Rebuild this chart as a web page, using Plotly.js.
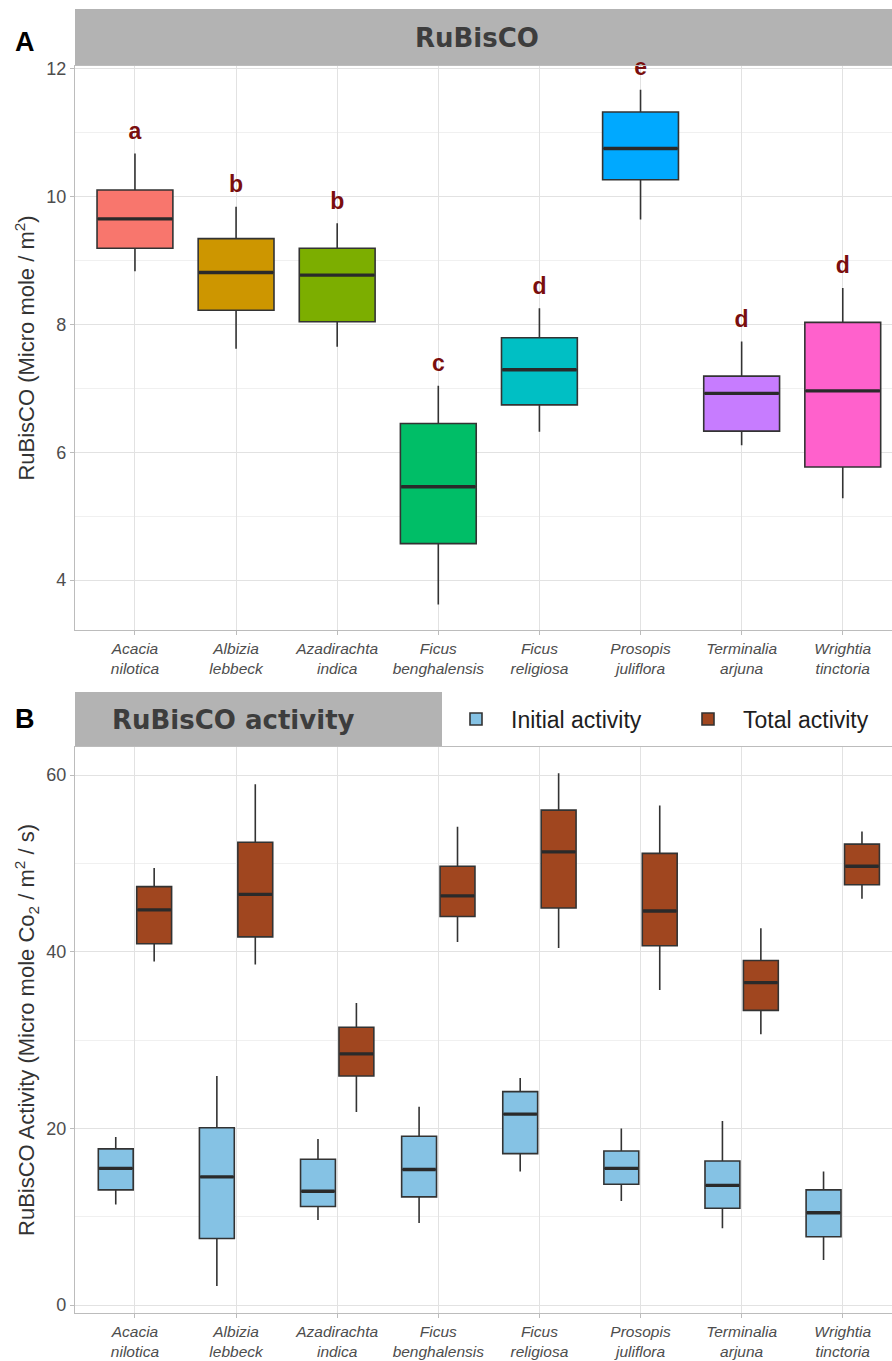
<!DOCTYPE html>
<html>
<head>
<meta charset="utf-8">
<script src="https://cdn.plot.ly/plotly-3.0.1.min.js"></script>
<style>html,body{margin:0;padding:0;background:#fff;overflow:hidden;}#chart{width:892px;height:1361px;}</style>
</head>
<body>
<div id="chart"></div>
<script>
// ---------- data ----------
const genus = ['Acacia','Albizia','Azadirachta','Ficus','Ficus','Prosopis','Terminalia','Wrightia'];
const epithet = ['nilotica','lebbeck','indica','benghalensis','religiosa','juliflora','arjuna','tinctoria'];

// Panel A: RuBisCO (Micro mole / m2)
const rubLow = [8.83, 7.62, 7.65, 3.62, 6.32, 9.64, 6.11, 5.28];
const rubQ1  = [9.19, 8.22, 8.04, 4.57, 6.74, 10.26, 6.33, 5.77];
const rubMed = [9.65, 8.81, 8.77, 5.46, 7.29, 10.75, 6.92, 6.96];
const rubQ3  = [10.10, 9.34, 9.19, 6.45, 7.79, 11.32, 7.19, 8.03];
const rubHigh= [10.67, 9.84, 9.58, 7.04, 8.25, 11.67, 7.73, 8.57];
const letters = ['a','b','b','c','d','e','d','d'];

// Panel B: RuBisCO activity (Micro mole CO2 / m2 / s)
const initLow = [11.37, 2.17, 9.62, 9.28, 15.13, 11.79, 8.70, 5.10];
const initQ1  = [13.04, 7.53, 11.16, 12.25, 17.14, 13.67, 10.95, 7.73];
const initMed = [15.47, 14.51, 12.88, 15.34, 21.61, 15.47, 13.55, 10.45];
const initQ3  = [17.68, 20.07, 16.51, 19.11, 24.16, 17.43, 16.30, 13.04];
const initHigh= [19.02, 25.92, 18.81, 22.45, 25.71, 19.98, 20.82, 15.13];

const totLow = [38.88, 38.55, 21.86, 41.10, 40.43, 35.66, 30.64, 45.99];
const totQ1  = [40.89, 41.68, 25.92, 43.98, 44.94, 40.68, 33.36, 47.58];
const totMed = [44.73, 46.49, 28.43, 46.32, 51.30, 44.61, 36.50, 49.67];
const totQ3  = [47.37, 52.38, 31.44, 49.67, 56.02, 51.13, 39.00, 52.17];
const totHigh= [49.46, 58.95, 34.20, 54.14, 60.20, 56.56, 42.64, 53.60];

const seriesNames = ['Initial activity','Total activity'];

// ---------- styles ----------
const hueColors = ['#F8766D','#CD9600','#7CAE00','#00BE67','#00BFC4','#00A9FF','#C77CFF','#FF61CC'];
const initColor = '#85C2E4';
const totColor  = '#A0461F';
const outline = '#333333';
const FONT = 'Liberation Sans, Arial, sans-serif';
const W = 892, H = 1361;
const boxWA = 0.75, boxWB = 0.345, dodge = 0.19;
const letterGap = 0.32;

const idx = genus.map((_, i) => i);
const tickText = genus.map((g, i) => '<i>' + g + '</i><br><i>' + epithet[i] + '</i>');

const traces = [];

// Panel A boxes
idx.forEach(i => {
  traces.push({
    type: 'box', xaxis: 'x', yaxis: 'y', x: [i],
    q1: [rubQ1[i]], median: [rubMed[i]], q3: [rubQ3[i]],
    lowerfence: [rubLow[i]], upperfence: [rubHigh[i]],
    width: boxWA, whiskerwidth: 0, boxpoints: false,
    fillcolor: hueColors[i], line: {color: outline, width: 1.6},
    showlegend: false, hoverinfo: 'skip'
  });
});
function medianSeg(centers, meds, w) {
  const xs = [], ys = [];
  centers.forEach((c, i) => { xs.push(c - w/2 + 0.008, c + w/2 - 0.008, null); ys.push(meds[i], meds[i], null); });
  return {xs, ys};
}
const mA = medianSeg(idx, rubMed, boxWA);
traces.push({type:'scatter', mode:'lines', xaxis:'x', yaxis:'y', x:mA.xs, y:mA.ys,
  line:{color:'#2a2a2a', width:3.4}, showlegend:false, hoverinfo:'skip'});
traces.push({type:'scatter', mode:'text', xaxis:'x', yaxis:'y', x: idx,
  y: rubHigh.map(v => v + letterGap), text: letters.map(l => '<b>' + l + '</b>'),
  textposition:'middle center', textfont:{family:FONT, size:23, color:'#7A0E0E'},
  cliponaxis:false, showlegend:false, hoverinfo:'skip'});

// Panel B boxes
const xInit = idx.map(i => i - dodge), xTot = idx.map(i => i + dodge);
traces.push({
  type:'box', name: seriesNames[0], legend:'legend', xaxis:'x2', yaxis:'y2', x: xInit,
  q1: initQ1, median: initMed, q3: initQ3, lowerfence: initLow, upperfence: initHigh,
  width: boxWB, whiskerwidth: 0, boxpoints: false,
  fillcolor: initColor, line:{color: outline, width: 1.6}, hoverinfo:'skip'
});
traces.push({
  type:'box', name: seriesNames[1], legend:'legend2', xaxis:'x2', yaxis:'y2', x: xTot,
  q1: totQ1, median: totMed, q3: totQ3, lowerfence: totLow, upperfence: totHigh,
  width: boxWB, whiskerwidth: 0, boxpoints: false,
  fillcolor: totColor, line:{color: outline, width: 1.6}, hoverinfo:'skip'
});
const mI = medianSeg(xInit, initMed, boxWB), mT = medianSeg(xTot, totMed, boxWB);
traces.push({type:'scatter', mode:'lines', xaxis:'x2', yaxis:'y2', x:mI.xs.concat(mT.xs), y:mI.ys.concat(mT.ys),
  line:{color:'#2a2a2a', width:3.4}, showlegend:false, hoverinfo:'skip'});

// ---------- layout ----------
const px = v => v / W, py = v => 1 - v / H;
const gridMajor = '#e2e2e2', gridMinor = '#f0f0f0', border = '#bcbcbc';
function xAx(anchor) {
  return {
    anchor: anchor, domain: [px(75), 1], range: [-0.593, 7.487],
    tickmode: 'array', tickvals: idx, ticktext: tickText,
    tickfont: {family: FONT, size: 15.5, color: '#4d4d4d'},
    showgrid: true, gridcolor: gridMajor, gridwidth: 1,
    showline: true, mirror: true, linecolor: border, linewidth: 1.2,
    ticks: 'outside', ticklen: 4, tickcolor: border, zeroline: false, fixedrange: true,
    automargin: false
  };
}
function yAx(anchor, dom, rng, dt, titleText) {
  return {
    anchor: anchor, domain: dom, range: rng, dtick: dt, tick0: 0,
    tickfont: {family: FONT, size: 18, color: '#4d4d4d'},
    showgrid: true, gridcolor: gridMajor, gridwidth: 1,
    minor: {dtick: dt/2, tick0: 0, showgrid: true, gridcolor: gridMinor, gridwidth: 1},
    showline: true, mirror: true, linecolor: border, linewidth: 1.2,
    ticks: 'outside', ticklen: 4, tickcolor: border, zeroline: false, fixedrange: true,
    automargin: false,
    title: {text: titleText, font: {family: FONT, size: 22, color: '#333'}, standoff: 5}
  };
}
const legendCommon = {
  orientation: 'h', xanchor: 'left', y: py(719), yanchor: 'middle',
  font: {family: FONT, size: 23, color: '#1e1e1e'}, itemwidth: 60,
  bgcolor: 'rgba(0,0,0,0)', itemclick: false, itemdoubleclick: false
};

const layout = {
  width: W, height: H,
  margin: {l: 0, r: 0, t: 0, b: 0, autoexpand: false},
  paper_bgcolor: '#fff', plot_bgcolor: '#fff',
  boxmode: 'overlay',
  xaxis: xAx('y'),
  yaxis: yAx('x', [py(630), py(66)], [3.22, 12.04], 2, 'RuBisCO (Micro mole / m<sup>2</sup>)'),
  xaxis2: xAx('y2'),
  yaxis2: yAx('x2', [py(1313), py(747)], [-0.9, 63.17], 20, 'RuBisCO Activity (Micro mole Co<sub>2</sub> / m<sup>2</sup> / s)'),
  showlegend: true,
  legend: Object.assign({}, legendCommon, {x: px(441)}),
  legend2: Object.assign({}, legendCommon, {x: px(673)}),
  shapes: [
    {type:'rect', xref:'paper', yref:'paper', x0: px(75), x1: 1, y0: py(65), y1: py(9),
     fillcolor:'#b3b3b3', line:{width:0}, layer:'below'},
    {type:'rect', xref:'paper', yref:'paper', x0: px(75), x1: px(442), y0: py(747), y1: py(692),
     fillcolor:'#b3b3b3', line:{width:0}, layer:'below'}
  ],
  annotations: [
    {text:'<b>RuBisCO</b>', xref:'paper', yref:'paper', x: px(477), y: py(38), showarrow:false,
     xanchor:'center', yanchor:'middle', font:{family:'DejaVu Sans, sans-serif', size:26, color:'#3d3d3d'}},
    {text:'<b>RuBisCO activity</b>', xref:'paper', yref:'paper', x: px(234), y: py(720), showarrow:false,
     xanchor:'center', yanchor:'middle', font:{family:'DejaVu Sans, sans-serif', size:26, color:'#3d3d3d'}},
    {text:'<b>A</b>', xref:'paper', yref:'paper', x: px(25), y: py(42), showarrow:false,
     xanchor:'center', yanchor:'middle', font:{family:FONT, size:27, color:'#000'}},
    {text:'<b>B</b>', xref:'paper', yref:'paper', x: px(25), y: py(719), showarrow:false,
     xanchor:'center', yanchor:'middle', font:{family:FONT, size:27, color:'#000'}}
  ]
};

Plotly.newPlot('chart', traces, layout, {displayModeBar: false, staticPlot: true});
</script>
</body>
</html>
